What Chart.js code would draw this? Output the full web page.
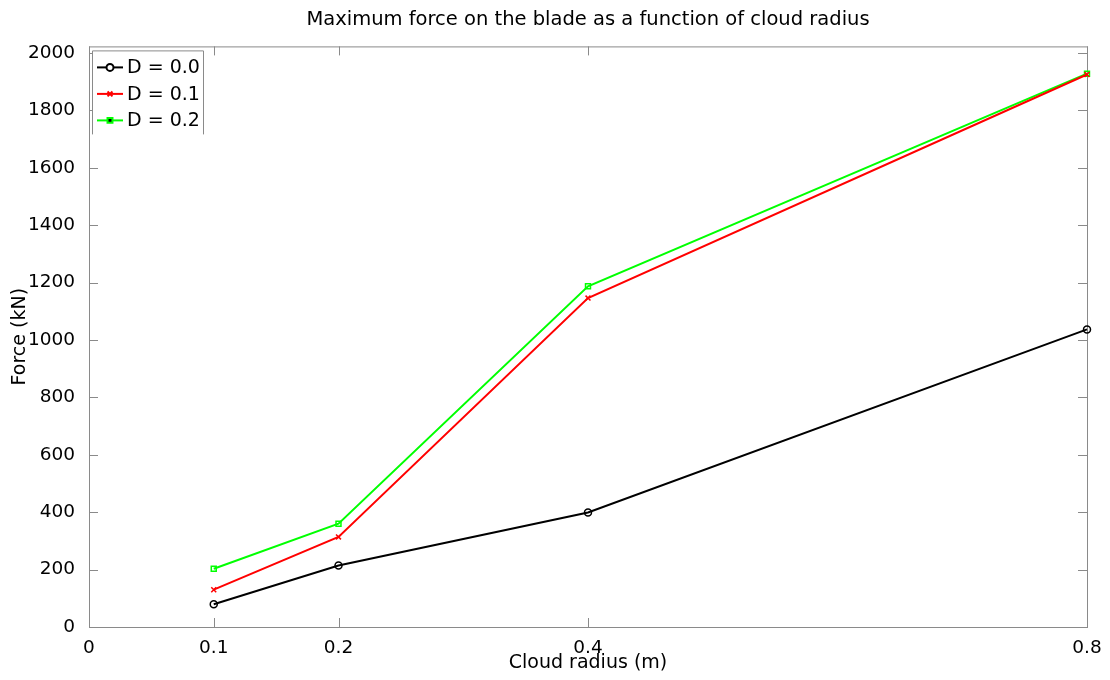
<!DOCTYPE html>
<html>
<head>
<meta charset="utf-8">
<script src="https://cdn.jsdelivr.net/npm/chart.js@4"></script>
<style>
  body { margin: 0; background: #fff; }
  #wrap { width: 1110px; height: 680px; }
</style>
</head>
<body>
<div id="wrap"><canvas id="forceChart"></canvas></div>
<script>
// cloud radius (m)
const radii = [0.1, 0.2, 0.4, 0.8];
// max force (kN) per damping value
const forceD00 = [79, 214, 399, 1037];
const forceD01 = [130, 314, 1146, 1925];
const forceD02 = [203, 360, 1187, 1928];
const seriesNames = ['D = 0.0', 'D = 0.1', 'D = 0.2'];
const xTicks = [0, 0.1, 0.2, 0.4, 0.8];
const yTicks = [0, 200, 400, 600, 800, 1000, 1200, 1400, 1600, 1800, 2000];

const FONT = 'DejaVu Sans';
const AXIS_GRAY = '#8a8a8a';

function toPoints(vals) {
  return radii.map((r, i) => ({ x: r, y: vals[i] }));
}

// box round the plot, with inward ticks on all four sides
const boxPlugin = {
  id: 'boxTicks',
  beforeDatasetsDraw(chart) {
    const { ctx, chartArea: a, scales } = chart;
    ctx.save();
    ctx.strokeStyle = AXIS_GRAY;
    ctx.lineWidth = 1;
    ctx.strokeRect(a.left + 0.5, a.top + 0.5, a.right - a.left, a.bottom - a.top);
    const len = 9;
    ctx.beginPath();
    xTicks.forEach(v => {
      const px = Math.round(scales.x.getPixelForValue(v)) + 0.5;
      ctx.moveTo(px, a.bottom); ctx.lineTo(px, a.bottom - len);
      ctx.moveTo(px, a.top); ctx.lineTo(px, a.top + len);
    });
    yTicks.forEach(v => {
      const py = Math.round(scales.y.getPixelForValue(v)) + 0.5;
      ctx.moveTo(a.left, py); ctx.lineTo(a.left + len, py);
      ctx.moveTo(a.right, py); ctx.lineTo(a.right - len, py);
    });
    ctx.stroke();
    ctx.restore();
  }
};

// matlab-style legend in the upper left corner (no bottom edge, like the original)
const legendPlugin = {
  id: 'innerLegend',
  afterDatasetsDraw(chart) {
    const { ctx, chartArea: a } = chart;
    const left = a.left + 3, top = a.top + 4;
    const w = 111, rowH = 26.5, h = 84;
    ctx.save();
    ctx.fillStyle = '#fff';
    ctx.fillRect(left, top, w, h);
    ctx.strokeStyle = AXIS_GRAY;
    ctx.lineWidth = 1;
    ctx.beginPath();
    ctx.moveTo(left + 0.5, top + h);
    ctx.lineTo(left + 0.5, top + 0.5);
    ctx.lineTo(left + w + 0.5, top + 0.5);
    ctx.lineTo(left + w + 0.5, top + h);
    ctx.stroke();
    chart.data.datasets.forEach((ds, i) => {
      const y = top + 17 + i * rowH;
      ctx.strokeStyle = ds.borderColor;
      ctx.lineWidth = 2;
      ctx.beginPath();
      ctx.moveTo(left + 5, y); ctx.lineTo(left + 31, y);
      ctx.stroke();
      Chart.helpers.drawPoint(ctx, {
        pointStyle: ds.pointStyle, radius: ds.pointRadius, borderWidth: 1.5
      }, left + 18, y);
      ctx.fillStyle = '#000';
      ctx.font = '19px "' + FONT + '"';
      ctx.textBaseline = 'middle';
      ctx.fillText(ds.label, left + 35, y + 1);
    });
    ctx.restore();
  }
};

const ctx = document.getElementById('forceChart').getContext('2d');
const chart = new Chart(ctx, {
  type: 'line',
  data: {
    datasets: [
      {
        label: seriesNames[0], data: toPoints(forceD00),
        borderColor: '#000000', backgroundColor: '#000000',
        pointStyle: 'circle', pointRadius: 3.5,
        pointBackgroundColor: 'rgba(0,0,0,0)', pointBorderColor: '#000000'
      },
      {
        label: seriesNames[1], data: toPoints(forceD01),
        borderColor: '#ff0000', backgroundColor: '#ff0000',
        pointStyle: 'crossRot', pointRadius: 3.5,
        pointBackgroundColor: 'rgba(0,0,0,0)', pointBorderColor: '#ff0000'
      },
      {
        label: seriesNames[2], data: toPoints(forceD02),
        borderColor: '#00ff00', backgroundColor: '#00ff00',
        pointStyle: 'rect', pointRadius: 3.5,
        pointBackgroundColor: 'rgba(0,0,0,0)', pointBorderColor: '#00ff00'
      }
    ].map(d => Object.assign(d, { borderWidth: 2, pointBorderWidth: 1.5, tension: 0, clip: false }))
  },
  options: {
    responsive: true,
    maintainAspectRatio: false,
    animation: false,
    layout: { padding: { left: 0, right: 23, top: 0, bottom: 0 } },
    plugins: {
      legend: { display: false },
      tooltip: { enabled: false },
      title: {
        display: true,
        fullSize: false,
        text: 'Maximum force on the blade as a function of cloud radius',
        color: '#000',
        font: { family: FONT, size: 19.5, weight: 'normal' },
        padding: { top: 8, bottom: 15 }
      }
    },
    scales: {
      x: {
        type: 'linear', min: 0, max: 0.8,
        afterBuildTicks: s => { s.ticks = xTicks.map(v => ({ value: v })); },
        afterFit: s => { s.height = 53; },
        grid: { display: false },
        border: { display: false },
        ticks: {
          color: '#000', padding: 2, maxRotation: 0, autoSkip: false,
          font: { family: FONT, size: 18.5 },
          callback: v => String(v)
        },
        title: {
          display: true, text: 'Cloud radius (m)', color: '#000',
          font: { family: FONT, size: 19 },
          padding: { top: 0, bottom: 6 }
        }
      },
      y: {
        type: 'linear', min: 0, max: 2023,
        afterBuildTicks: s => { s.ticks = yTicks.map(v => ({ value: v })); },
        afterFit: s => { s.width = 89; },
        grid: { display: false },
        border: { display: false },
        ticks: {
          color: '#000', padding: 6, autoSkip: false,
          font: { family: FONT, size: 18.5 },
          callback: v => String(v)
        },
        title: {
          display: true, text: 'Force (kN)', color: '#000',
          font: { family: FONT, size: 19 },
          padding: { top: 9, bottom: 0 }
        }
      }
    }
  },
  plugins: [boxPlugin, legendPlugin]
});
</script>
</body>
</html>
